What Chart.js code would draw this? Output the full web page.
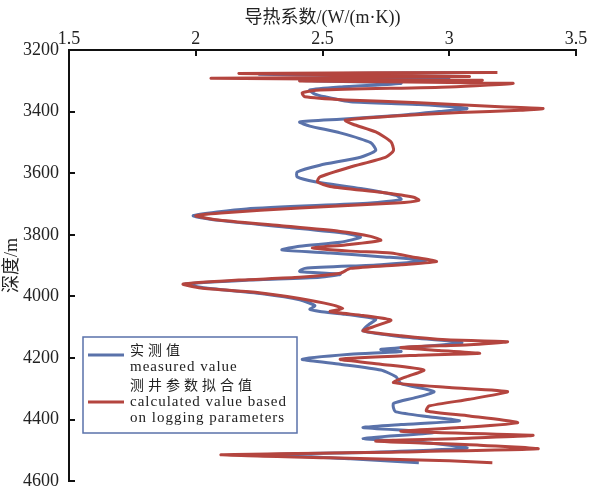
<!DOCTYPE html>
<html>
<head>
<meta charset="utf-8">
<script src="https://cdn.jsdelivr.net/npm/chart.js@4"></script>
<style>
  html, body { margin: 0; padding: 0; background: #fff; }
  #wrap { width: 591px; height: 502px; }
</style>
</head>
<body>
<div id="wrap"><canvas id="conductivityChart" width="591" height="502"></canvas></div>
<script>
// depth (m) and thermal conductivity (W/(m·K))
const measuredDepth = [3273, 3279, 3289, 3298, 3308, 3320, 3330, 3343, 3352, 3368, 3377, 3390, 3400, 3412, 3425, 3434, 3447, 3469, 3501, 3526,
    3548, 3574, 3596, 3612, 3628, 3650, 3672, 3685, 3697, 3716, 3738, 3754, 3776, 3795, 3808, 3824, 3837, 3849, 3859, 3871,
    3884, 3897, 3909, 3919, 3928, 3938, 3947, 3960, 3973, 3992, 4011, 4030, 4042, 4049, 4058, 4074, 4093, 4112, 4131, 4150,
    4163, 4172, 4179, 4188, 4204, 4220, 4239, 4261, 4283, 4309, 4328, 4347, 4362, 4375, 4391, 4404, 4416, 4426, 4442, 4461,
    4476, 4492, 4505, 4514, 4527, 4540];
const measuredValue = [3.08, 2.25, 3.00, 2.41, 2.81, 2.57, 2.45, 2.47, 2.51, 2.61, 2.88, 3.07, 2.96, 2.81, 2.57, 2.41, 2.45, 2.57, 2.69, 2.71,
    2.65, 2.49, 2.40, 2.40, 2.47, 2.65, 2.79, 2.81, 2.69, 2.20, 1.99, 2.10, 2.37, 2.59, 2.65, 2.57, 2.41, 2.34, 2.53, 2.73,
    2.91, 2.73, 2.43, 2.41, 2.57, 2.49, 2.21, 1.96, 2.04, 2.27, 2.41, 2.47, 2.45, 2.49, 2.59, 2.71, 2.68, 2.66, 2.81, 3.05,
    2.88, 2.73, 2.81, 2.61, 2.42, 2.57, 2.73, 2.79, 2.81, 2.94, 2.87, 2.78, 2.78, 2.79, 2.92, 3.04, 2.81, 2.66, 2.94, 2.66,
    2.92, 3.07, 2.73, 2.30, 2.61, 2.88];

const calcDepth = [3273, 3276, 3286, 3292, 3298, 3301, 3308, 3320, 3330, 3339, 3352, 3362, 3371, 3384, 3390, 3396, 3403, 3415, 3428, 3441,
    3466, 3498, 3526, 3548, 3580, 3612, 3628, 3643, 3662, 3678, 3688, 3697, 3713, 3729, 3738, 3751, 3770, 3789, 3805, 3818,
    3833, 3843, 3853, 3859, 3871, 3887, 3897, 3909, 3925, 3938, 3947, 3960, 3973, 3988, 4007, 4026, 4039, 4049, 4062, 4077,
    4096, 4112, 4128, 4141, 4147, 4157, 4166, 4176, 4185, 4191, 4204, 4220, 4239, 4261, 4280, 4296, 4309, 4334, 4356, 4372,
    4388, 4410, 4426, 4438, 4451, 4461, 4470, 4483, 4495, 4505, 4514, 4524, 4534, 4540];
const calcValue = [3.19, 2.17, 3.08, 2.06, 3.13, 2.41, 3.25, 3.00, 2.49, 2.42, 2.43, 2.59, 2.88, 3.20, 3.37, 3.28, 3.04, 2.77, 2.59, 2.62,
    2.71, 2.77, 2.78, 2.75, 2.61, 2.49, 2.48, 2.53, 2.73, 2.86, 2.88, 2.79, 2.41, 2.10, 2.00, 2.08, 2.33, 2.57, 2.69, 2.73,
    2.59, 2.46, 2.61, 2.77, 2.85, 2.95, 2.81, 2.61, 2.57, 2.41, 2.17, 1.95, 2.02, 2.25, 2.41, 2.53, 2.58, 2.53, 2.66, 2.77,
    2.71, 2.66, 2.81, 2.99, 3.23, 3.08, 2.81, 2.96, 3.12, 2.88, 2.57, 2.73, 2.90, 2.83, 2.78, 3.00, 3.23, 3.08, 2.92, 2.91,
    3.08, 3.27, 3.04, 2.81, 3.33, 3.04, 2.71, 3.12, 3.35, 2.81, 2.10, 2.53, 3.00, 3.17];

const xTicks = [1.5, 2, 2.5, 3, 3.5];
const yTicks = [3200, 3400, 3600, 3800, 4000, 4200, 4400, 4600];

const blue = '#5a72aa';
const red = '#b4453f';
const serif = "'Liberation Serif', 'Noto Sans CJK SC', serif";

function toPoints(depths, values) {
    return depths.map((d, i) => ({ x: values[i], y: d }));
}

// tick marks point into the plot, so draw them by hand
const innerTicks = {
    id: 'innerTicks',
    afterDraw(chart) {
        const ctx = chart.ctx;
        const xs = chart.scales.x, ys = chart.scales.y;
        ctx.save();
        ctx.strokeStyle = '#111';
        ctx.lineWidth = 2;
        xTicks.forEach(v => {
            const px = Math.round(xs.getPixelForValue(v));
            ctx.beginPath();
            ctx.moveTo(px, ys.top);
            ctx.lineTo(px, ys.top + 6);
            ctx.stroke();
        });
        yTicks.forEach(v => {
            const py = Math.round(ys.getPixelForValue(v));
            ctx.beginPath();
            ctx.moveTo(xs.left, py);
            ctx.lineTo(xs.left + 6, py);
            ctx.stroke();
        });
        ctx.restore();
    }
};

// boxed legend in the lower left
const boxLegend = {
    id: 'boxLegend',
    afterDraw(chart) {
        const ctx = chart.ctx;
        ctx.save();
        ctx.fillStyle = '#fff';
        ctx.fillRect(83, 337, 214, 96);
        ctx.strokeStyle = blue;
        ctx.lineWidth = 1.5;
        ctx.strokeRect(83, 337, 214, 96);

        ctx.lineWidth = 3;
        ctx.strokeStyle = blue;
        ctx.beginPath(); ctx.moveTo(88, 355); ctx.lineTo(124, 355); ctx.stroke();
        ctx.strokeStyle = red;
        ctx.beginPath(); ctx.moveTo(88, 402); ctx.lineTo(124, 402); ctx.stroke();

        ctx.fillStyle = '#222';
        ctx.textAlign = 'left';
        ctx.textBaseline = 'middle';
        if ('letterSpacing' in ctx) ctx.letterSpacing = '4px';
        ctx.font = "14px 'Noto Sans CJK SC'";
        ctx.fillText('实测值', 130, 350);
        ctx.fillText('测井参数拟合值', 130, 385);
        if ('letterSpacing' in ctx) ctx.letterSpacing = '1px';
        ctx.font = "15px 'Liberation Serif'";
        ctx.fillText('measured value', 130, 367);
        ctx.fillText('calculated value based', 130, 402);
        ctx.fillText('on logging parameters', 130, 418);
        ctx.restore();
    }
};

const ctx = document.getElementById('conductivityChart').getContext('2d');
new Chart(ctx, {
    type: 'scatter',
    data: {
        datasets: [{
            label: '测井参数拟合值 calculated value based on logging parameters',
            data: toPoints(calcDepth, calcValue),
            borderColor: red,
            backgroundColor: red,
            borderWidth: 3,
            showLine: true,
            pointRadius: 0,
            tension: 0.2,
            order: 0
        }, {
            label: '实测值 measured value',
            data: toPoints(measuredDepth, measuredValue),
            borderColor: blue,
            backgroundColor: blue,
            borderWidth: 3,
            showLine: true,
            pointRadius: 0,
            tension: 0.2,
            order: 1
        }]
    },
    options: {
        responsive: false,
        animation: false,
        layout: { padding: { left: 0, top: 0, right: 15, bottom: 10 } },
        plugins: {
            legend: { display: false },
            tooltip: { enabled: false }
        },
        scales: {
            x: {
                type: 'linear',
                position: 'top',
                min: 1.5,
                max: 3.5,
                afterBuildTicks: s => { s.ticks = xTicks.map(v => ({ value: v })); },
                afterFit: s => { s.height = 50; },
                ticks: {
                    color: '#222',
                    padding: 0,
                    maxRotation: 0,
                    font: { family: serif, size: 18 },
                    callback: v => String(v)
                },
                grid: { display: false, drawTicks: false },
                border: { display: true, color: '#111', width: 2 },
                title: {
                    display: true,
                    text: '导热系数/(W/(m·K))',
                    color: '#222',
                    font: { family: serif, size: 18 },
                    padding: { top: 7, bottom: 0 }
                }
            },
            y: {
                type: 'linear',
                position: 'left',
                reverse: true,
                min: 3200,
                max: 4600,
                afterBuildTicks: s => { s.ticks = yTicks.map(v => ({ value: v })); },
                afterFit: s => { s.width = 69; },
                ticks: {
                    color: '#222',
                    padding: 10,
                    font: { family: serif, size: 18 },
                    callback: v => String(v)
                },
                grid: { display: false, drawTicks: false },
                border: { display: true, color: '#111', width: 2 },
                title: {
                    display: true,
                    text: '深度/m',
                    color: '#222',
                    font: { family: serif, size: 18 },
                    padding: { top: 1, bottom: 0 }
                }
            }
        }
    },
    plugins: [innerTicks, boxLegend]
});
</script>
</body>
</html>
